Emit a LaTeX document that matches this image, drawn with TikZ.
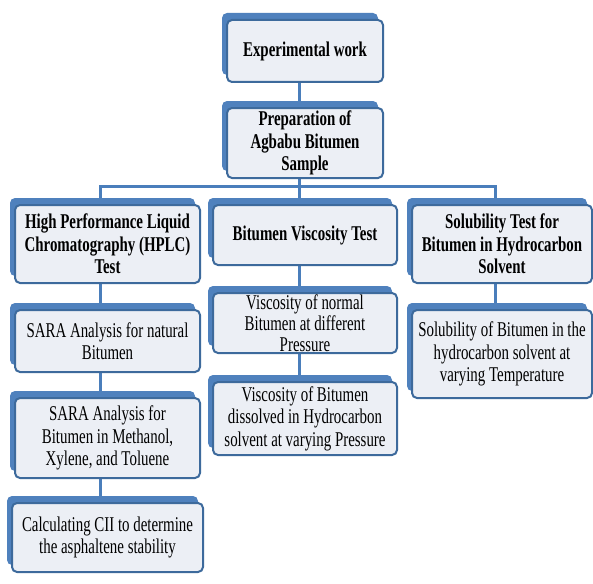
\documentclass[tikz,border=0pt]{standalone}
\usepackage{fontspec}
\setmainfont{Liberation Serif}[FakeStretch=0.71]
\usetikzlibrary{shadows,backgrounds}
\definecolor{tabblue}{HTML}{4F81BD}
\definecolor{edgeblue}{HTML}{3D6A9C}
\definecolor{linkblue}{HTML}{4A7EBB}
\definecolor{cardfill}{HTML}{ECEFF5}

\tikzset{
  card/.style={rectangle,rounded corners=5pt,draw=edgeblue,line width=2pt,
    fill=cardfill,align=center,inner sep=1pt,text=black,
    drop shadow={shadow xshift=-5pt,shadow yshift=7pt,fill=tabblue,opacity=1},
    font=\fontsize{21}{22.5}\selectfont},
  headcard/.style={card,font=\fontsize{21}{22.5}\selectfont\bfseries},
  link/.style={draw=linkblue,line width=3pt}
}

\begin{document}
\begin{tikzpicture}[x=1pt,y=-1pt]
    \useasboundingbox (0,0) rectangle (593,583);
    % top of the tree
    \node[headcard,minimum width=156pt,minimum height=62pt] (exp) at (305,51)
      {Experimental work};
    \node[headcard,minimum width=156pt,minimum height=70pt] (prep) at (305,143)
      {Preparation of\\Agbabu Bitumen\\Sample};
    % the three tests
    \node[headcard,minimum width=185pt,minimum height=78pt] (hplc) at (107.5,244)
      {High Performance Liquid\\Chromatography (HPLC)\\Test};
    \node[headcard,minimum width=184pt,minimum height=60pt] (visc) at (305,235)
      {Bitumen Viscosity Test};
    \node[headcard,minimum width=180pt,minimum height=78pt] (sol) at (502,244)
      {Solubility Test for\\Bitumen in Hydrocarbon\\Solvent};
    % left column
    \node[card,minimum width=185pt,minimum height=62pt] (sara1) at (107.5,341)
      {SARA Analysis for natural\\Bitumen};
    \node[card,minimum width=185pt,minimum height=80pt] (sara2) at (107.5,438)
      {SARA Analysis for\\Bitumen in Methanol,\\Xylene, and Toluene};
    \node[card,minimum width=191pt,minimum height=69pt] (cii) at (107.5,537.5)
      {Calculating CII to determine\\the asphaltene stability};
    % middle column
    \node[card,minimum width=184pt,minimum height=60pt,
      font=\fontsize{21}{21}\selectfont] (visc1) at (305,323)
      {Viscosity of normal\\Bitumen at different\\Pressure};
    \node[card,minimum width=184pt,minimum height=73pt] (visc2) at (305,418.5)
      {Viscosity of Bitumen\\dissolved in Hydrocarbon\\solvent at varying Pressure};
    % right column
    \node[card,minimum width=180pt,minimum height=88pt] (sol2) at (502,354)
      {Solubility of Bitumen in the\\hydrocarbon solvent at\\varying Temperature};

    \begin{scope}[on background layer]
      \fill[white] (0,0) rectangle (593,583);
      \draw[link] ([xshift=-6pt]exp.south) -- ([xshift=-6pt]prep.north);
      \draw[link] ([xshift=-6pt]prep.south) -- ++(0,7) coordinate (bus);
      \draw[link] ([xshift=-7pt]hplc.north) |- (bus) -| ([xshift=-7pt]sol.north);
      \draw[link] ([xshift=-6pt]visc.north) -- ([xshift=-6pt]visc.north |- bus);
      \draw[link] ([xshift=-7pt]hplc.south) -- ([xshift=-7pt]sara1.north);
      \draw[link] ([xshift=-7pt]sara1.south) -- ([xshift=-7pt]sara2.north);
      \draw[link] ([xshift=-7pt]sara2.south) -- ([xshift=-7pt]cii.north);
      \draw[link] ([xshift=-6pt]visc.south) -- ([xshift=-6pt]visc1.north);
      \draw[link] ([xshift=-6pt]visc1.south) -- ([xshift=-6pt]visc2.north);
      \draw[link] ([xshift=-7pt]sol.south) -- ([xshift=-7pt]sol2.north);
    \end{scope}
  \end{tikzpicture}
\end{document}
